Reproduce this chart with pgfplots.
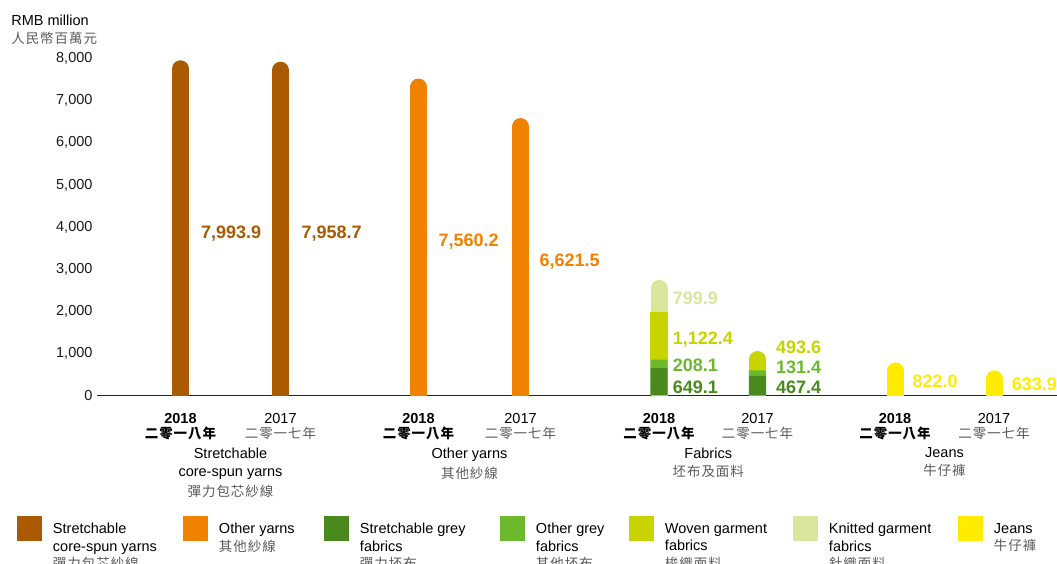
\documentclass[border=0pt]{standalone}
\usepackage{pgfplots}
\pgfplotsset{compat=1.18}
\usepackage{fontspec}
\setmainfont{Liberation Sans}
\newfontfamily\cjk[Scale=0.93,LetterSpace=7]{Noto Sans CJK TC}
\definecolor{cBrown}{HTML}{AA5A00}
\definecolor{cOrange}{HTML}{F08200}
\definecolor{cDkGreen}{HTML}{4A8A1C}
\definecolor{cGreen}{HTML}{6DB92E}
\definecolor{cWoven}{HTML}{C8D400}
\definecolor{cKnit}{HTML}{D9E69B}
\definecolor{cJeans}{HTML}{FFEC00}
\definecolor{cGreyText}{HTML}{5A5A5A}
\newcommand{\zh}[1]{{\cjk\color{cGreyText}#1}}
\newcommand{\zhb}[1]{{\cjk\bfseries #1}}
\newcommand{\fs}{\fontsize{14.5}{17.5}\selectfont}
\newcommand{\fy}{\fontsize{14.5}{13.5}\selectfont}
\newcommand{\fv}{\fontsize{18}{20}\selectfont\bfseries}
\pgfplotsset{
  comb/.style={forget plot, ycomb, draw=#1, line width=17pt, line cap=round, yshift=-10pt, mark=none},
  vlab/.style={forget plot, draw=none, mark=none, nodes near coords, point meta=explicit symbolic,
     every node near coord/.append style={anchor=west, inner sep=0pt, font=\fv, text=#1, text height=12.9pt, text depth=0pt}},
  base/.style={scale only axis, width=960pt, height=337pt, xmin=97, xmax=1057, ymin=0, ymax=8000},
}
\begin{document}
\begin{tikzpicture}
\begin{axis}[
  base,
  axis x line*=bottom, axis y line*=left,
  y axis line style={draw=none},
  x axis line style={line width=1.2pt, draw=black!85},
  major tick length=0pt,
  ytick={0,1000,...,8000},
  scaled y ticks=false,
  yticklabel style={font=\fs, text=black!90, xshift=-1pt, /pgf/number format/1000 sep={,}, /pgf/number format/assume math mode=true},
  xtick={180.5,280.5,418.5,520.5,659,757.5,895,994},
  xticklabels={
    {\textbf{2018}\\[2pt]\zhb{二零一八年}}, {2017\\[2pt]\zh{二零一七年}},
    {\textbf{2018}\\[2pt]\zhb{二零一八年}}, {2017\\[2pt]\zh{二零一七年}},
    {\textbf{2018}\\[2pt]\zhb{二零一八年}}, {2017\\[2pt]\zh{二零一七年}},
    {\textbf{2018}\\[2pt]\zhb{二零一八年}}, {2017\\[2pt]\zh{二零一七年}}},
  xticklabel style={font=\fy, align=center, inner sep=0pt, anchor=north, yshift=-17.4pt},
  extra x ticks={230.5,469.5,708.25,944.5},
  extra x tick labels={
    {Stretchable\\[4.5pt]core-spun yarns\\[4.5pt]\zh{彈力包芯紗線}},
    {Other yarns\\[4.5pt]\zh{其他紗線}},
    {Fabrics\\[4.5pt]\zh{坯布及面料}},
    {Jeans\\[4.5pt]\zh{牛仔褲}}},
  extra x tick style={tick label style={yshift=-34.7pt}},
  ylabel={RMB million\\\zh{人民幣百萬元}},
  every axis y label/.style={at={(rel axis cs:0,1)}, anchor=north west, xshift=-85.8pt, yshift=43.7pt, align=left, font=\fs, inner sep=0pt},
  legend columns=7,
  legend cell align=left,
  legend style={at={(rel axis cs:0,0)}, anchor=north west, xshift=-80pt, yshift=-120.5pt,
     draw=none, fill=none, inner sep=0pt, outer sep=0pt, font=\fs,
     nodes={inner sep=0pt},
     /tikz/every odd column/.append style={column sep=11pt}},
  legend image code/.code={\fill[#1] (0pt,-12pt) rectangle (25pt,13pt);},
]
% single bars with rounded tops
\addplot[comb=cBrown] coordinates {(180.5,7993.9) (280.5,7958.7)};
\addplot[comb=cOrange] coordinates {(418.5,7560.2) (520.5,6621.5)};
\addplot[comb=cJeans] coordinates {(895,822.0) (994,633.9)};
% fabrics: rounded top segment drawn to the bar total, lower segments stacked on top (second axis)
\addplot[comb=cKnit] coordinates {(659,2779.5)};
\addplot[comb=cWoven] coordinates {(757.5,1092.4)};
% value labels
\addplot[vlab=cBrown] table[meta=lab] {
x y lab
201 3881 7,993.9
301.5 3881 7,958.7
};
\addplot[vlab=cOrange] table[meta=lab] {
x y lab
438.3 3691 7,560.2
539.3 3217 6,621.5
};
\addplot[vlab=cDkGreen] table[meta=lab] {
x y lab
672.7 209 649.1
776 209 467.4
};
\addplot[vlab=cGreen] table[meta=lab] {
x y lab
672.7 724 208.1
776 684 131.4
};
\addplot[vlab=cWoven] table[meta=lab] {
x y lab
672.7 1358 1,122.4
776 1139 493.6
};
\addplot[vlab=cKnit] table[meta=lab] {
x y lab
672.7 2315 799.9
};
\addplot[vlab=cJeans] table[meta=lab] {
x y lab
912.5 344 822.0
1011.7 273 633.9
};
% legend
\addlegendimage{fill=cBrown, draw=none}
\addlegendentry{\parbox[t]{130pt}{\raggedright Stretchable\\core-spun yarns\\\zh{彈力包芯紗線}}}
\addlegendimage{fill=cOrange, draw=none}
\addlegendentry{\parbox[t]{105pt}{\raggedright Other yarns\\\zh{其他紗線}}}
\addlegendimage{fill=cDkGreen, draw=none}
\addlegendentry{\parbox[t]{140pt}{\raggedright Stretchable grey\\fabrics\\\zh{彈力坯布}}}
\addlegendimage{fill=cGreen, draw=none}
\addlegendentry{\parbox[t]{93pt}{\raggedright Other grey\\fabrics\\\zh{其他坯布}}}
\addlegendimage{fill=cWoven, draw=none}
\addlegendentry{\parbox[t]{128pt}{\raggedright Woven garment\\fabrics\\\zh{梭織面料}}}
\addlegendimage{fill=cKnit, draw=none}
\addlegendentry{\parbox[t]{129pt}{\raggedright Knitted garment\\fabrics\\\zh{針織面料}}}
\addlegendimage{fill=cJeans, draw=none}
\addlegendentry{\parbox[t]{60pt}{\raggedright Jeans\\\zh{牛仔褲}}}
\end{axis}
\begin{axis}[base, hide axis, ybar stacked, bar width=17.4pt]
\addplot[fill=cDkGreen, draw=none] coordinates {(659,649.1) (757.5,467.4)};
\addplot[fill=cGreen, draw=none] coordinates {(659,208.1) (757.5,131.4)};
\addplot[fill=cWoven, draw=none] coordinates {(659,1122.4)};
\end{axis}
\pgfresetboundingbox
\useasboundingbox ([xshift=-97pt, yshift=-168.5pt]current axis.south west) rectangle ++(1057pt,564pt);
\end{tikzpicture}
\end{document}
